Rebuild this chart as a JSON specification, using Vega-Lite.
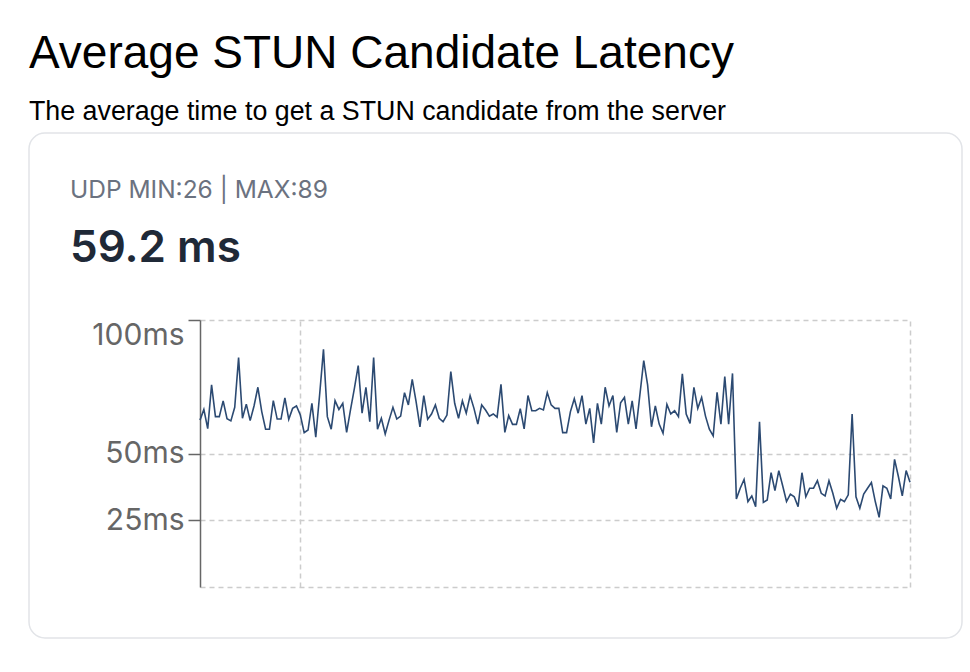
{
  "$schema": "https://vega.github.io/schema/vega-lite/v6.json",
  "padding": {"left": 28, "top": 31, "right": 8, "bottom": 30},
  "background": "#ffffff",
  "title": {
    "text": "Average STUN Candidate Latency",
    "subtitle": "The average time to get a STUN candidate from the server",
    "anchor": "start",
    "frame": "group",
    "font": "Liberation Sans",
    "fontSize": 46,
    "fontWeight": "normal",
    "color": "#000000",
    "subtitleFont": "Liberation Sans",
    "subtitleFontSize": 26.8,
    "subtitleColor": "#000000",
    "subtitlePadding": 21,
    "offset": 5
  },
  "vconcat": [
    {
      "width": 933,
      "height": 505,
      "title": {
        "text": "UDP MIN:26 | MAX:89",
        "subtitle": "59.2 ms",
        "anchor": "start",
        "frame": "group",
        "font": "Inter",
        "fontSize": 24.5,
        "fontWeight": "normal",
        "color": "#6b7280",
        "subtitleFont": "Inter",
        "subtitleFontSize": 44,
        "subtitleFontWeight": 600,
        "subtitleColor": "#1f2937",
        "subtitlePadding": 24,
        "offset": -139,
        "dx": 41
      },
      "data": {
        "values": [
          {"sample":0,"latency_ms":62.5},{"sample":1,"latency_ms":66.5},{"sample":2,"latency_ms":59.3},{"sample":3,"latency_ms":75.7},{"sample":4,"latency_ms":63.8},{"sample":5,"latency_ms":63.8},{"sample":6,"latency_ms":69.7},{"sample":7,"latency_ms":63.0},{"sample":8,"latency_ms":62.2},{"sample":9,"latency_ms":67.3},
          {"sample":10,"latency_ms":85.9},{"sample":11,"latency_ms":63.2},{"sample":12,"latency_ms":68.5},{"sample":13,"latency_ms":62.3},{"sample":14,"latency_ms":67.8},{"sample":15,"latency_ms":74.8},{"sample":16,"latency_ms":65.7},{"sample":17,"latency_ms":59.1},{"sample":18,"latency_ms":59.1},{"sample":19,"latency_ms":69.8},
          {"sample":20,"latency_ms":62.9},{"sample":21,"latency_ms":62.9},{"sample":22,"latency_ms":70.8},{"sample":23,"latency_ms":62.8},{"sample":24,"latency_ms":66.9},{"sample":25,"latency_ms":67.8},{"sample":26,"latency_ms":64.4},{"sample":27,"latency_ms":57.8},{"sample":28,"latency_ms":58.8},{"sample":29,"latency_ms":68.8},
          {"sample":30,"latency_ms":56.1},{"sample":31,"latency_ms":72.0},{"sample":32,"latency_ms":89.0},{"sample":33,"latency_ms":63.8},{"sample":34,"latency_ms":59.1},{"sample":35,"latency_ms":69.8},{"sample":36,"latency_ms":66.5},{"sample":37,"latency_ms":68.8},{"sample":38,"latency_ms":57.9},{"sample":39,"latency_ms":66.3},
          {"sample":40,"latency_ms":74.3},{"sample":41,"latency_ms":82.9},{"sample":42,"latency_ms":65.1},{"sample":43,"latency_ms":74.8},{"sample":44,"latency_ms":61.9},{"sample":45,"latency_ms":85.9},{"sample":46,"latency_ms":59.1},{"sample":47,"latency_ms":63.2},{"sample":48,"latency_ms":57.3},{"sample":49,"latency_ms":62.5},
          {"sample":50,"latency_ms":67.3},{"sample":51,"latency_ms":62.9},{"sample":52,"latency_ms":64.0},{"sample":53,"latency_ms":72.8},{"sample":54,"latency_ms":68.2},{"sample":55,"latency_ms":77.8},{"sample":56,"latency_ms":69.4},{"sample":57,"latency_ms":60.0},{"sample":58,"latency_ms":71.7},{"sample":59,"latency_ms":62.8},
          {"sample":60,"latency_ms":64.8},{"sample":61,"latency_ms":68.2},{"sample":62,"latency_ms":63.2},{"sample":63,"latency_ms":61.9},{"sample":64,"latency_ms":64.4},{"sample":65,"latency_ms":80.7},{"sample":66,"latency_ms":68.8},{"sample":67,"latency_ms":63.2},{"sample":68,"latency_ms":69.7},{"sample":69,"latency_ms":65.1},
          {"sample":70,"latency_ms":71.7},{"sample":71,"latency_ms":66.9},{"sample":72,"latency_ms":61.0},{"sample":73,"latency_ms":68.2},{"sample":74,"latency_ms":66.3},{"sample":75,"latency_ms":64.0},{"sample":76,"latency_ms":64.8},{"sample":77,"latency_ms":63.6},{"sample":78,"latency_ms":75.9},{"sample":79,"latency_ms":57.9},
          {"sample":80,"latency_ms":64.2},{"sample":81,"latency_ms":60.9},{"sample":82,"latency_ms":60.9},{"sample":83,"latency_ms":66.8},{"sample":84,"latency_ms":59.2},{"sample":85,"latency_ms":71.7},{"sample":86,"latency_ms":66.0},{"sample":87,"latency_ms":66.0},{"sample":88,"latency_ms":66.9},{"sample":89,"latency_ms":66.3},
          {"sample":90,"latency_ms":72.8},{"sample":91,"latency_ms":68.2},{"sample":92,"latency_ms":66.9},{"sample":93,"latency_ms":66.9},{"sample":94,"latency_ms":57.8},{"sample":95,"latency_ms":57.8},{"sample":96,"latency_ms":65.7},{"sample":97,"latency_ms":70.5},{"sample":98,"latency_ms":65.1},{"sample":99,"latency_ms":71.7},
          {"sample":100,"latency_ms":61.0},{"sample":101,"latency_ms":66.9},{"sample":102,"latency_ms":54.0},{"sample":103,"latency_ms":68.8},{"sample":104,"latency_ms":61.0},{"sample":105,"latency_ms":74.8},{"sample":106,"latency_ms":67.8},{"sample":107,"latency_ms":71.7},{"sample":108,"latency_ms":57.9},{"sample":109,"latency_ms":69.0},
          {"sample":110,"latency_ms":71.0},{"sample":111,"latency_ms":61.0},{"sample":112,"latency_ms":69.7},{"sample":113,"latency_ms":59.2},{"sample":114,"latency_ms":72.0},{"sample":115,"latency_ms":84.8},{"sample":116,"latency_ms":75.7},{"sample":117,"latency_ms":60.0},{"sample":118,"latency_ms":67.8},{"sample":119,"latency_ms":61.0},
          {"sample":120,"latency_ms":57.6},{"sample":121,"latency_ms":68.4},{"sample":122,"latency_ms":64.8},{"sample":123,"latency_ms":66.0},{"sample":124,"latency_ms":63.8},{"sample":125,"latency_ms":79.8},{"sample":126,"latency_ms":64.8},{"sample":127,"latency_ms":61.3},{"sample":128,"latency_ms":74.8},{"sample":129,"latency_ms":66.9},
          {"sample":130,"latency_ms":71.0},{"sample":131,"latency_ms":64.0},{"sample":132,"latency_ms":59.1},{"sample":133,"latency_ms":56.6},{"sample":134,"latency_ms":72.9},{"sample":135,"latency_ms":61.0},{"sample":136,"latency_ms":78.8},{"sample":137,"latency_ms":61.0},{"sample":138,"latency_ms":80.0},{"sample":139,"latency_ms":33.0},
          {"sample":140,"latency_ms":37.0},{"sample":141,"latency_ms":40.3},{"sample":142,"latency_ms":32.0},{"sample":143,"latency_ms":34.1},{"sample":144,"latency_ms":30.1},{"sample":145,"latency_ms":61.9},{"sample":146,"latency_ms":31.7},{"sample":147,"latency_ms":32.6},{"sample":148,"latency_ms":42.8},{"sample":149,"latency_ms":36.1},
          {"sample":150,"latency_ms":43.6},{"sample":151,"latency_ms":37.9},{"sample":152,"latency_ms":32.0},{"sample":153,"latency_ms":34.8},{"sample":154,"latency_ms":33.8},{"sample":155,"latency_ms":30.1},{"sample":156,"latency_ms":42.8},{"sample":157,"latency_ms":33.8},{"sample":158,"latency_ms":37.0},{"sample":159,"latency_ms":37.0},
          {"sample":160,"latency_ms":39.8},{"sample":161,"latency_ms":35.1},{"sample":162,"latency_ms":34.1},{"sample":163,"latency_ms":39.8},{"sample":164,"latency_ms":35.1},{"sample":165,"latency_ms":29.5},{"sample":166,"latency_ms":32.8},{"sample":167,"latency_ms":32.0},{"sample":168,"latency_ms":34.5},{"sample":169,"latency_ms":64.8},
          {"sample":170,"latency_ms":33.8},{"sample":171,"latency_ms":29.5},{"sample":172,"latency_ms":34.8},{"sample":173,"latency_ms":37.0},{"sample":174,"latency_ms":39.1},{"sample":175,"latency_ms":32.0},{"sample":176,"latency_ms":26.1},{"sample":177,"latency_ms":37.9},{"sample":178,"latency_ms":37.0},{"sample":179,"latency_ms":33.0},
          {"sample":180,"latency_ms":47.8},{"sample":181,"latency_ms":41.3},{"sample":182,"latency_ms":34.1},{"sample":183,"latency_ms":43.6},{"sample":184,"latency_ms":39.2}
        ]
      },
      "layer": [
        {
          "mark": {"type": "line", "color": "#2c4a72", "strokeWidth": 1.6, "interpolate": "linear"},
          "encoding": {
            "x": {
              "field": "sample",
              "type": "quantitative",
              "scale": {"domain": [0, 184], "range": [171, 881], "nice": false, "zero": false},
              "axis": {
                "orient": "top",
                "values": [26, 184],
                "grid": true,
                "gridColor": "#cccccc",
                "gridDash": [5, 4],
                "gridWidth": 1.5,
                "domain": false,
                "ticks": false,
                "labels": false,
                "title": null
              }
            },
            "y": {
              "field": "latency_ms",
              "type": "quantitative",
              "scale": {"domain": [0, 100], "range": [454, 187], "nice": false, "zero": false},
              "axis": {
                "orient": "left",
                "offset": -171,
                "values": [0, 25, 50, 100],
                "labelExpr": "datum.value === 0 ? '' : datum.value + 'ms'",
                "grid": true,
                "gridColor": "#cccccc",
                "gridDash": [5, 4],
                "gridWidth": 1.5,
                "domainColor": "#666666",
                "domainWidth": 1.5,
                "tickColor": {"condition": {"test": "datum.value === 0", "value": "transparent"}, "value": "#666666"},
                "tickWidth": 1.5,
                "tickSize": 12,
                "labelFont": "Inter",
                "labelFontSize": 30,
                "labelColor": "#666666",
                "labelPadding": 4,
                "labelFlush": true,
                "labelFlushOffset": 0,
                "title": null
              }
            }
          }
        }
      ]
    }
  ],
  "config": {
    "view": {"stroke": "#e2e4e8", "strokeWidth": 1.5, "cornerRadius": 16}
  }
}
